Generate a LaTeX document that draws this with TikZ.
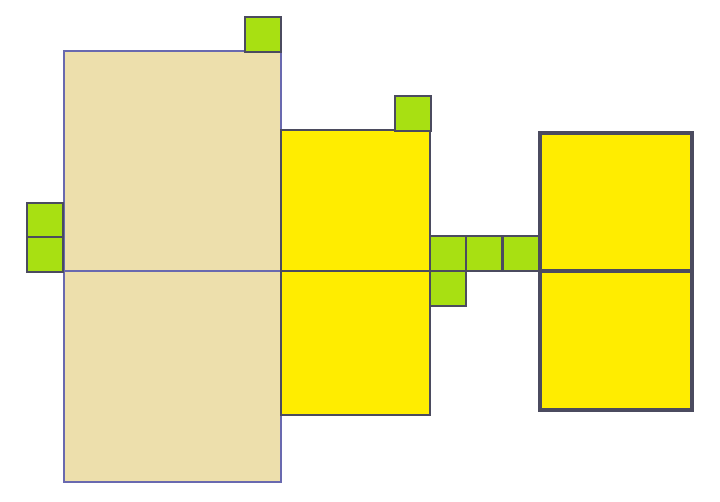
\documentclass[tikz,border=0pt]{standalone}
\usepackage{xcolor}
\usepackage{tikz}
\definecolor{tanfill}{RGB}{237,223,172}
\definecolor{yelfill}{RGB}{255,237,0}
\definecolor{limefill}{RGB}{168,224,18}
\definecolor{tanedge}{RGB}{105,105,175}
\definecolor{darkedge}{RGB}{75,75,95}
\begin{document}
\begin{tikzpicture}[
    x=0.025cm, y=-0.025cm,
    tanbox/.style={draw=tanedge, line width=1.9pt, fill=tanfill},
    yelbox/.style={draw=darkedge, line width=1.8pt, fill=yelfill},
    bigyelbox/.style={draw=darkedge, line width=2.3pt, fill=yelfill},
    limebox/.style={draw=darkedge, line width=1.7pt, fill=limefill}
]
\useasboundingbox (0,0) rectangle (720,501);
% big tan block
\draw[tanbox] (64,51) rectangle (281,271);
\draw[tanbox] (64,271) rectangle (281,482);
% middle yellow block
\draw[yelbox] (281,130) rectangle (430,271);
\draw[yelbox] (281,271) rectangle (430,415);
% right yellow block
\draw[bigyelbox] (540,133) rectangle (692,271);
\draw[bigyelbox] (540,271) rectangle (692,410);
% small green squares
\foreach \x/\y in {245/17, 27/203, 27/237, 395/96, 430/236, 466/236, 503/236, 430/271}
  \draw[limebox] (\x,\y) rectangle ++(36,35);
\end{tikzpicture}
\end{document}
